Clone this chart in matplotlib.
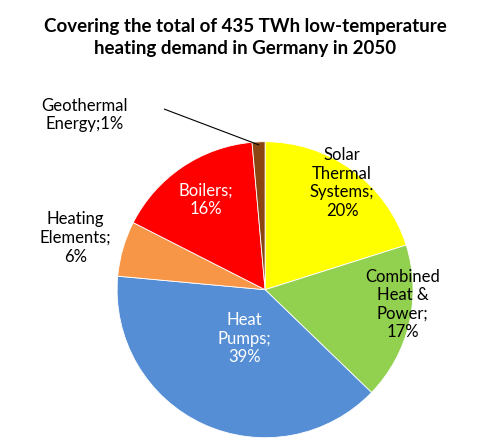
import matplotlib
matplotlib.use("Agg")
import matplotlib.pyplot as plt
import numpy as np

labels = ["Solar\nThermal\nSystems;\n20%", "Combined\nHeat &\nPower;\n17%", "Heat\nPumps;\n39%",
          "Heating\nElements;\n6%", "Boilers;\n16%", "Geothermal\nEnergy;1%"]
values = [20, 17, 39, 6, 16, 1.4]
colors = ["#FFFF00", "#92D050", "#558ED5", "#F79646", "#FF0000", "#8B4513"]
text_colors = ["black", "black", "white", "black", "white", "black"]

plt.rcParams['font.family'] = ['Lato', 'DejaVu Sans']
fig = plt.figure(figsize=(4.9, 4.44), dpi=100)
fig.text(0.5, 0.96, "Covering the total of 435 TWh low-temperature\nheating demand in Germany in 2050",
         ha="center", va="top", fontsize=13.5, fontweight="bold", linespacing=1.4)
ax = fig.add_axes([0.239, 0.014, 0.604, 0.667])
wedges, _ = ax.pie(values, colors=colors, startangle=90, counterclock=False,
                   wedgeprops=dict(edgecolor="white", linewidth=0.6))
ax.set_xlim(-1, 1); ax.set_ylim(-1, 1); ax.set_aspect("equal")

pos = [(0.52, 0.72), (0.93, -0.10), (-0.14, -0.33), (-1.28, 0.35), (-0.40, 0.61), (-1.22, 1.18)]
for i, (lab, p) in enumerate(zip(labels, pos)):
    ax.text(p[0], p[1], lab, ha="center", va="center", fontsize=12, color=text_colors[i],
            linespacing=1.2, clip_on=False)
w = wedges[5]
ang = np.deg2rad((w.theta1 + w.theta2) / 2)
ax.plot([-0.68, np.cos(ang) * 0.98], [1.22, np.sin(ang) * 0.98], color="black", lw=0.8, clip_on=False)
ax.axis("off")
fig.savefig("out.png", dpi=100)
